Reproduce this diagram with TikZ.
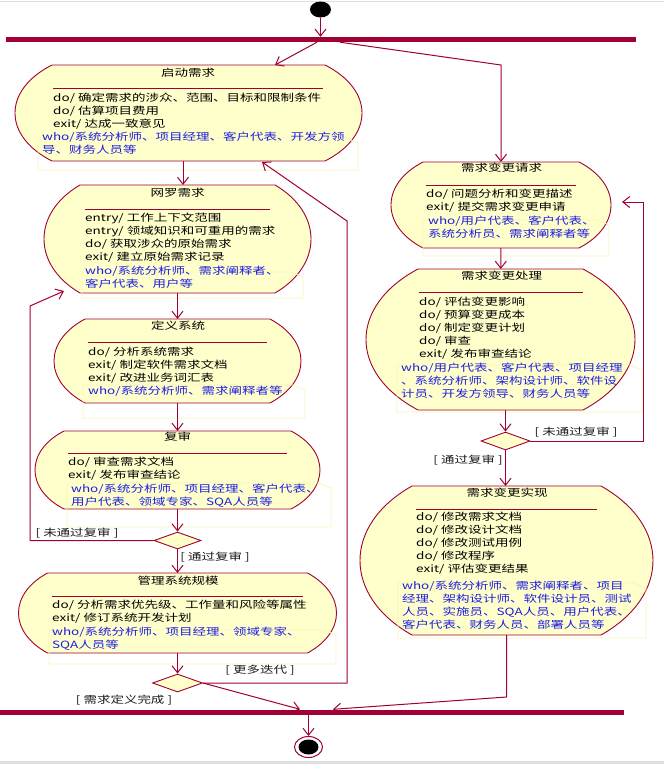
\documentclass[tikz,border=0pt]{standalone}
\usepackage{fontspec}
\newfontfamily\cjk{Noto Sans CJK SC}
\usetikzlibrary{calc,positioning}
\usetikzlibrary{arrows.meta,shapes.geometric}

\definecolor{umlred}{RGB}{160,0,50}
\definecolor{actfill}{RGB}{255,255,204}
\definecolor{whoblue}{RGB}{30,30,225}
\definecolor{notecol}{RGB}{250,245,185}

\tikzset{
  flow/.style={draw=umlred, line width=1pt, -{Straight Barb[length=7pt,width=11pt]}},
  actline/.style={draw=umlred, line width=0.9pt},
  state/.style={inner sep=0pt, outer sep=0pt},
  txt/.style={font=\cjk\fontsize{13.5}{17.8}\selectfont, yscale=0.74, transform shape, inner sep=0pt},
  ttl/.style={txt, text=black},
  body/.style={txt, align=left, anchor=north west, text=black},
  who/.style={txt, align=left, anchor=north west, text=whoblue},
  lbl/.style={txt, text=black!90},
  bar/.style={fill=umlred, inner sep=0pt, minimum height=5pt},
  choice/.style={diamond, draw=umlred, fill=actfill, line width=0.9pt, inner sep=0pt},
  whonote/.style={draw=notecol, line width=0.8pt}
}

% activity state outline: node, bulge, corner drop
\newcommand{\actshape}[3]{%
  \filldraw[actline, fill=actfill] (#1.north west) -- (#1.north east)
    .. controls ([shift={(4*#2/3,#3)}]#1.north east) and ([shift={(4*#2/3,-#3)}]#1.south east) .. (#1.south east)
    -- (#1.south west)
    .. controls ([shift={(-4*#2/3,-#3)}]#1.south west) and ([shift={(-4*#2/3,#3)}]#1.north west) .. (#1.north west) -- cycle;}

\begin{document}
\begin{tikzpicture}[x=1pt,y=-1pt]%%%需求开发活动图
\useasboundingbox (0,0) rectangle (664,764);
\draw[gray!25] (0,1) -- (664,1);
\fill[gray!25] (0,761) rectangle (664,764);

% start, fork, join, end
\node[ellipse, fill=black, minimum width=21pt, minimum height=16pt, inner sep=0pt] (init) at (320.5,9.5) {};
\node[bar, minimum width=630pt] (fork) at (321,39.5) {};
\node[bar, minimum width=624pt] (join) at (312,712) {};
\node[ellipse, draw=umlred, line width=1pt, fill=white, minimum width=28pt, minimum height=21pt, inner sep=0pt] (fin) at (308.5,747) {};
\node[ellipse, fill=black, minimum width=20pt, minimum height=15pt, inner sep=0pt] (fin-dot) at (fin.center) {};

% states
\node[state, minimum width=273pt, minimum height=96pt] (qd) at (188.5,113) {};
\node[state, minimum width=195pt, minimum height=108pt] (wl) at (177.5,239) {};
\node[state, minimum width=185pt, minimum height=84pt] (dy) at (177.5,361) {};
\node[state, minimum width=227pt, minimum height=78pt] (fs) at (177.5,470) {};
\node[state, minimum width=260pt, minimum height=80pt] (gl) at (177.5,613) {};
\node[state, minimum width=156pt, minimum height=86pt] (bq) at (501,205) {};
\node[state, minimum width=165pt, minimum height=141pt] (bc) at (500.5,339.5) {};
\node[state, minimum width=189pt, minimum height=149pt] (bs) at (506.5,560.5) {};
\actshape{qd}{37}{25}
\actshape{wl}{36}{28}
\actshape{dy}{31}{22}
\actshape{fs}{29}{20}
\actshape{gl}{29}{21}
\actshape{bq}{32}{22}
\actshape{bc}{52}{37}
\actshape{bs}{52}{39}

% who notes
\draw[whonote] (38,138) -- (346,138) -- (358,143) |- (38,170) -- cycle;
\draw[whonote] (82,272) -- (291,272) -- (303,277) |- (82,298) -- cycle;
\draw[whonote] (83,385) -- (293,385) -- (305,390) |- (83,418) -- cycle;
\draw[whonote] (67,483) -- (319,483) -- (331,488) |- (67,527) -- cycle;
\draw[whonote] (49,630) -- (324,630) -- (336,635) |- (49,664) -- cycle;
\draw[whonote] (423,220) -- (597,220) -- (609,225) |- (423,256) -- cycle;
\draw[whonote] (397,365) -- (630,365) -- (642,370) |- (397,412) -- cycle;
\draw[whonote] (398,583) -- (634,583) -- (646,588) |- (398,638) -- cycle;

% separators
\draw[actline] (53,88) -- (323,88);
\draw[actline] (85,209) -- (270,209);
\draw[actline] (88,342) -- (267,342);
\draw[actline] (68,453) -- (287,453);
\draw[actline] (52,596) -- (303,596);
\draw[actline] (426,185) -- (576,185);
\draw[actline] (419,292) -- (583,292);
\draw[actline] (416,509) -- (597,509);

% texts
\node[ttl] (qd-t) at (188,72.5) {启动需求};
\node[body] (qd-b) at (53,92.5) {do/ 确定需求的涉众、范围、目标和限制条件\\do/ 估算项目费用\\exit/ 达成一致意见};
\node[who] (qd-w) at (42,132) {who/系统分析师、项目经理、客户代表、开发方领\\导、财务人员等};

\node[ttl] (wl-t) at (177.5,193) {网罗需求};
\node[body] (wl-b) at (85,212.5) {entry/ 工作上下文范围\\entry/ 领域知识和可重用的需求\\do/ 获取涉众的原始需求\\exit/ 建立原始需求记录};
\node[who] (wl-w) at (85,265.5) {who/系统分析师、需求阐释者、\\客户代表、用户等};

\node[ttl] (dy-t) at (178,326) {定义系统};
\node[body] (dy-b) at (88,346.5) {do/ 分析系统需求\\exit/ 制定软件需求文档\\exit/ 改进业务词汇表};
\node[who] (dy-w) at (88,385.5) {who/系统分析师、需求阐释者等};

\node[ttl] (fs-t) at (177.5,437) {复审};
\node[body] (fs-b) at (68,457) {do/ 审查需求文档\\exit/ 发布审查结论};
\node[who] (fs-w) at (71,483.5) {who/系统分析师、项目经理、客户代表、\\用户代表、领域专家、SQA人员等};

\node[ttl] (gl-t) at (178,580.5) {管理系统规模};
\node[body] (gl-b) at (52,599.5) {do/ 分析需求优先级、工作量和风险等属性\\exit/ 修订系统开发计划};
\node[who] (gl-w) at (52,626.5) {who/系统分析师、项目经理、领域专家、\\SQA人员等};

\node[ttl] (bq-t) at (501.5,168) {需求变更请求};
\node[body] (bq-b) at (426,188.5) {do/ 问题分析和变更描述\\exit/ 提交需求变更申请};
\node[who] (bq-w) at (428,215.5) {who/用户代表、客户代表、\\系统分析员、需求阐释者等};

\node[ttl] (bc-t) at (501.5,276) {需求变更处理};
\node[body] (bc-b) at (419,296.5) {do/ 评估变更影响\\do/ 预算变更成本\\do/ 制定变更计划\\do/ 审查\\exit/ 发布审查结论};
\node[who] (bc-w) at (401,362.5) {who/用户代表、客户代表、项目经理\\、系统分析师、架构设计师、软件设\\计员、开发方领导、财务人员等};

\node[ttl] (bs-t) at (507,492.5) {需求变更实现};
\node[body] (bs-b) at (416,511.5) {do/ 修改需求文档\\do/ 修改设计文档\\do/ 修改测试用例\\do/ 修改程序\\exit/ 评估变更结果};
\node[who] (bs-w) at (402,580.5) {who/系统分析师、需求阐释者、项目\\经理、架构设计师、软件设计员、测试\\人员、实施员、SQA人员、用户代表、\\客户代表、财务人员、部署人员等};

% decisions
\node[choice, minimum width=47pt, minimum height=17pt] (d1) at (177.5,540.5) {};
\node[choice, minimum width=50pt, minimum height=18pt] (d2) at (177.5,683) {};
\node[choice, minimum width=49pt, minimum height=18pt] (d3) at (505.5,441) {};

% transitions
\coordinate (bq-k) at (501,65);
\coordinate (wl-in) at (64,291);
\coordinate (qd-in) at (262,162);
\coordinate (bq-in) at (622,202);
\draw[flow] (init) -- (init |- fork.north);
\draw[flow] ([xshift=-4pt]fork.south) -- ([xshift=86.5pt]qd.north);
\draw[flow] ([xshift=19pt]fork.south) -- (bq-k) -- (bq.north);
\draw[flow] ([xshift=-5.5pt]qd.south) -- ([xshift=5.5pt]wl.north);
\draw[flow] (wl) -- (dy);
\draw[flow] (dy) -- (fs);
\draw[flow] (fs) -- (d1);
\draw[flow] (d1) -- (gl);
\draw[flow] (gl) -- (d2);
\draw[flow] (d1.west) -| (30,306) -- (wl-in);
\draw[flow] (d2.east) -| (347,221) -- (qd-in);
\draw[flow] (d2.east) -- ([xshift=-12pt]join.north);
\draw[flow] (bq) -- (bc);
\draw[flow] (bc.south -| d3.north) -- (d3.north);
\draw[flow] (d3) -- (d3 |- bs.north);
\draw[flow] (d3.east) -| (643,202) -- (bq-in);
\draw[flow] (bs.south) -- ++(0,62) -- ([xshift=21pt]join.north);
\draw[flow] (join.south -| fin.north) -- (fin.north);

% guards
\node[lbl] (l-nf) at (77,533) {[ 未通过复审 ]};
\node[lbl] (l-pass) at (215,557) {[ 通过复审 ]};
\node[lbl] (l-more) at (260,670) {[ 更多迭代 ]};
\node[lbl] (l-done) at (124,700) {[ 需求定义完成 ]};
\node[lbl] (l-nf2) at (576,432) {[ 未通过复审 ]};
\node[lbl] (l-pass2) at (468,460) {[ 通过复审 ]};

\end{tikzpicture}
\end{document}
